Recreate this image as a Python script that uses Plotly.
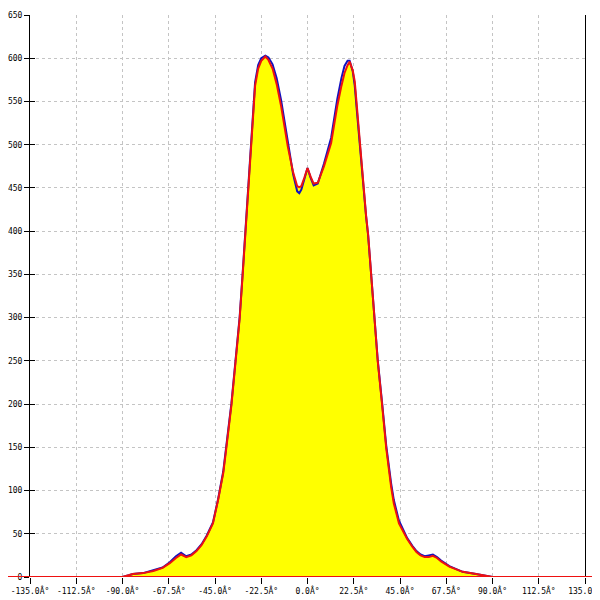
import plotly.graph_objects as go

angles = [-135, -90, -87, -85, -80, -75, -70.5, -67, -64, -61.5, -59, -56.5, -54, -51.5, -49, -46,
          -43.5, -41, -39.5, -37, -35, -33, -31.5, -30.2, -29.1, -28, -27, -25.5, -24, -22.5,
          -20.5, -19, -17, -15, -12.8, -9.6, -7, -5, -4, -3, -1.5, 0, 1.5, 3, 5, 8, 11.5, 14.5,
          16.5, 18, 19.5, 20.5, 22, 23, 24, 25.3, 27, 28.5, 29.5, 31, 32.6, 34.2, 36.3, 38.3,
          40.7, 42, 44.5, 47, 48.5, 51, 53, 55, 57, 59, 61, 63, 65, 69, 75.5, 82, 87, 90, 135]

red_vals = [0, 0, 2, 3.5, 4.5, 7, 10.5, 16, 22, 26, 23, 25, 30, 37, 47, 62,
            89, 120, 149, 199, 249, 299, 351, 399, 436, 480, 525, 568, 588, 597,
            602, 598, 588, 570, 544, 498, 468, 452, 451, 452, 462, 473, 463, 455, 456, 475, 502, 545,
            568, 583, 592, 596, 586, 573, 545, 505, 459, 418, 396, 351, 299, 249, 199, 149,
            104, 85, 62, 50, 44, 35, 29, 25, 23, 23, 24.5, 22, 18, 12, 6, 3.5, 1, 0, 0]

blue_vals = [0, 0, 2, 3.5, 4.5, 7.5, 11, 17, 24, 28, 24, 26, 31, 38, 48, 63,
             90, 122, 151, 201, 251, 301, 353, 401, 438, 482, 528, 572, 592, 600,
             603, 601, 593, 577, 551, 505, 466, 446, 444, 448, 462, 473, 462, 453, 455, 478, 508, 553,
             577, 591, 597, 597, 585, 568, 540, 502, 457, 417, 395, 350, 299, 250, 201, 152,
             108, 89, 65, 52, 45, 36, 30, 26, 24, 25, 26, 23, 19, 12.5, 6, 3.5, 1, 0, 0]

x_ticks = [-135, -112.5, -90, -67.5, -45, -22.5, 0, 22.5, 45, 67.5, 90, 112.5, 135]
x_tick_labels = ["-135.0Â°", "-112.5Â°", "-90.0Â°", "-67.5Â°", "-45.0Â°", "-22.5Â°", "0.0Â°",
                 "22.5Â°", "45.0Â°", "67.5Â°", "90.0Â°", "112.5Â°", "135.0Â°"]
y_ticks = [0, 50, 100, 150, 200, 250, 300, 350, 400, 450, 500, 550, 600, 650]

fig = go.Figure()
fig.add_trace(go.Scatter(x=angles, y=red_vals, mode="lines", line=dict(width=0),
                         fill="tozeroy", fillcolor="#ffff00", hoverinfo="skip"))
fig.add_trace(go.Scatter(x=angles, y=blue_vals, mode="lines",
                         line=dict(color="#1010c0", width=2)))
fig.add_trace(go.Scatter(x=angles, y=red_vals, mode="lines",
                         line=dict(color="#ee1111", width=2)))
fig.add_trace(go.Scatter(x=[None], y=[None], yaxis="y2", showlegend=False))

tick_font = dict(family="DejaVu Sans Mono", size=8, color="#000000")
grid = dict(showgrid=True, gridcolor="#c4c4c4", gridwidth=1, griddash="3px,3px")

fig.update_layout(
    width=600, height=600,
    margin=dict(l=22, r=23, t=7, b=31, autoexpand=False),
    paper_bgcolor="white", plot_bgcolor="white",
    showlegend=False,
    xaxis=dict(range=[-135, 135], tickvals=x_ticks, ticktext=x_tick_labels,
               ticks="outside", ticklen=6, tickcolor="black", tickwidth=1,
               showline=False, zeroline=False, tickfont=tick_font, automargin=False,
               ticklabeloverflow="allow", **grid),
    yaxis=dict(range=[0, 650], tickvals=y_ticks, ticks="outside", ticklen=5,
               tickcolor="black", tickwidth=1, showline=True, linecolor="black",
               linewidth=1, mirror=True, zeroline=False, tickfont=tick_font,
               automargin=False, ticklabeloverflow="allow", **grid),
    yaxis2=dict(range=[0, 650], tickvals=y_ticks, ticks="inside", ticklen=5,
                tickcolor="black", overlaying="y", side="left", showticklabels=False,
                showgrid=False, zeroline=False, showline=False, automargin=False),
)

fig.add_shape(type="line", xref="paper", yref="y", x0=-0.06, x1=1.03, y0=0, y1=0,
              line=dict(color="#ee1111", width=2), layer="above")

fig.write_html("out.html")
